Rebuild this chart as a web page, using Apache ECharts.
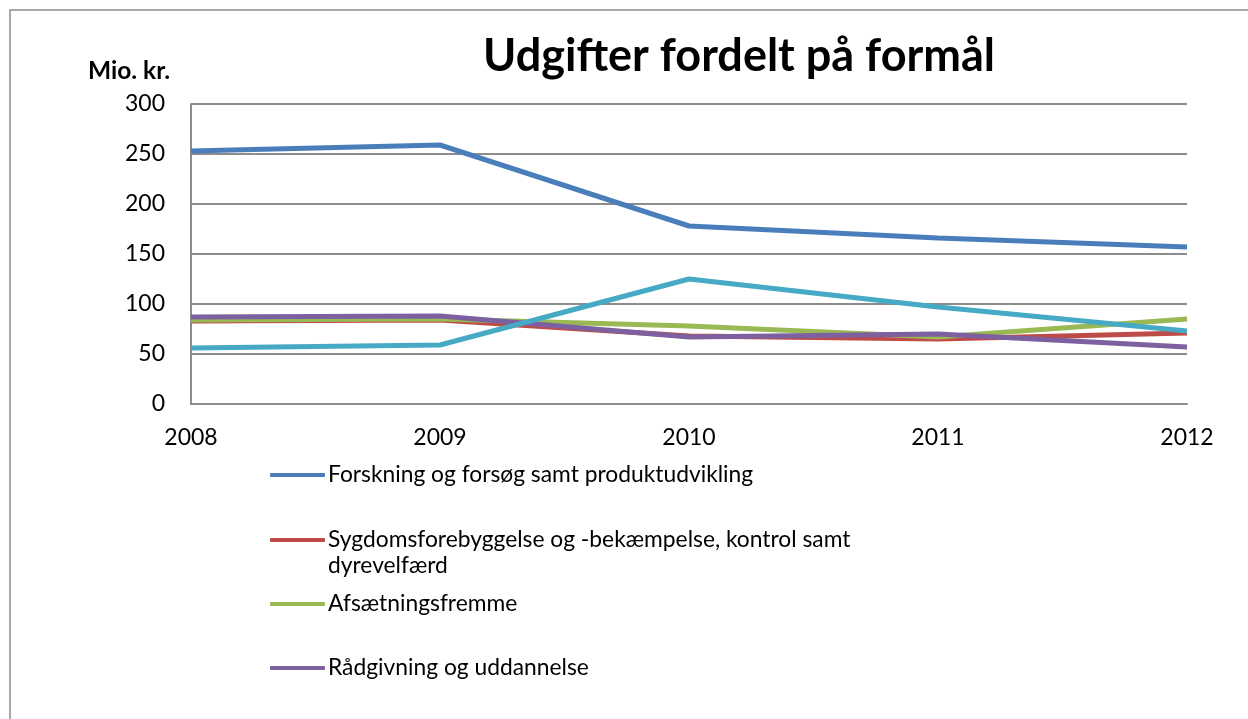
<!DOCTYPE html>
<html>
<head>
<meta charset="utf-8">
<script src="https://cdn.jsdelivr.net/npm/echarts@6/dist/echarts.min.js"></script>
<style>
html,body{margin:0;padding:0;background:#fff;}
#chart{width:1248px;height:719px;}
</style>
</head>
<body>
<div id="chart"></div>
<script>
const years = ['2008', '2009', '2010', '2011', '2012'];
const seriesNames = [
  'Forskning og forsøg samt produktudvikling',
  'Sygdomsforebyggelse og -bekæmpelse, kontrol samt dyrevelfærd',
  'Afsætningsfremme',
  'Rådgivning og uddannelse',
  'Øvrige'
];
const forskning = [253, 259, 178, 166, 157];
const sygdom = [83, 84, 68, 65, 71];
const afsaetning = [84, 85, 78, 67, 85];
const raadgivning = [87, 88, 67, 70, 57];
const oevrige = [56, 59, 125, 97, 73];
const yTicks = [0, 50, 100, 150, 200, 250, 300];

const colors = ['#4A7EBB', '#BE4B48', '#98B954', '#7D60A0', '#46AAC5'];
const values = [forskning, sygdom, afsaetning, raadgivning, oevrige];
const legendTops = [475, 540, 604, 668, 732];
const FONT = 'Lato, "Open Sans", sans-serif';

const chart = echarts.init(document.getElementById('chart'));

const legends = seriesNames.map((name, i) => {
  const twoLine = name.indexOf('kontrol samt dyrevelfærd') >= 0;
  const lh = 26;
  const lines = twoLine ? 3 : 1;
  return {
    data: [{name: name, icon: 'roundRect', itemStyle: {color: colors[i]}}],
    left: 270,
    top: legendTops[i] - lines * lh / 2,
    orient: 'vertical',
    itemWidth: 55,
    itemHeight: 4,
    itemGap: 0,
    padding: 0,
    selectedMode: false,
    formatter: twoLine ? function (n) {
      return '\nSygdomsforebyggelse og -bekæmpelse, kontrol samt\ndyrevelfærd';
    } : '{name}',
    textStyle: {fontFamily: FONT, fontSize: 22.8, color: '#000', lineHeight: lh, padding: [0, 0, 0, -2]}
  };
});

chart.setOption({
  animation: false,
  backgroundColor: '#fff',
  title: {
    text: 'Udgifter fordelt på formål',
    left: 734,
    textAlign: 'center',
    top: 29,
    textStyle: {fontFamily: FONT, fontSize: 45, fontWeight: 'bold', color: '#000'}
  },
  graphic: [
    {
      type: 'rect',
      shape: {x: 10, y: 10, width: 1400, height: 900},
      style: {fill: 'none', stroke: '#8c8c8c', lineWidth: 1.5},
      silent: true
    },
    {
      type: 'text',
      left: 88,
      top: 59,
      style: {text: 'Mio. kr.', font: 'bold 24.5px ' + FONT, fill: '#000'}
    }
  ],
  legend: legends,
  grid: {left: 191, top: 104, right: 61, bottom: 315, containLabel: false},
  xAxis: {
    type: 'category',
    data: years,
    boundaryGap: false,
    axisLine: {show: true, lineStyle: {color: '#8c8c8c', width: 2}},
    axisTick: {show: false},
    axisLabel: {fontFamily: FONT, fontSize: 23, color: '#000', margin: 22},
    splitLine: {show: false}
  },
  yAxis: {
    type: 'value',
    min: yTicks[0],
    max: yTicks[yTicks.length - 1],
    interval: 50,
    axisLine: {show: true, lineStyle: {color: '#8c8c8c', width: 2}},
    axisTick: {show: false},
    axisLabel: {fontFamily: FONT, fontSize: 23, color: '#000', margin: 26},
    splitLine: {show: true, lineStyle: {color: '#8c8c8c', width: 2}}
  },
  series: seriesNames.map((name, i) => ({
    name: name,
    type: 'line',
    data: values[i],
    symbol: 'none',
    lineStyle: {color: colors[i], width: 5},
    itemStyle: {color: colors[i]},
    z: 2 + i
  }))
});
</script>
</body>
</html>
